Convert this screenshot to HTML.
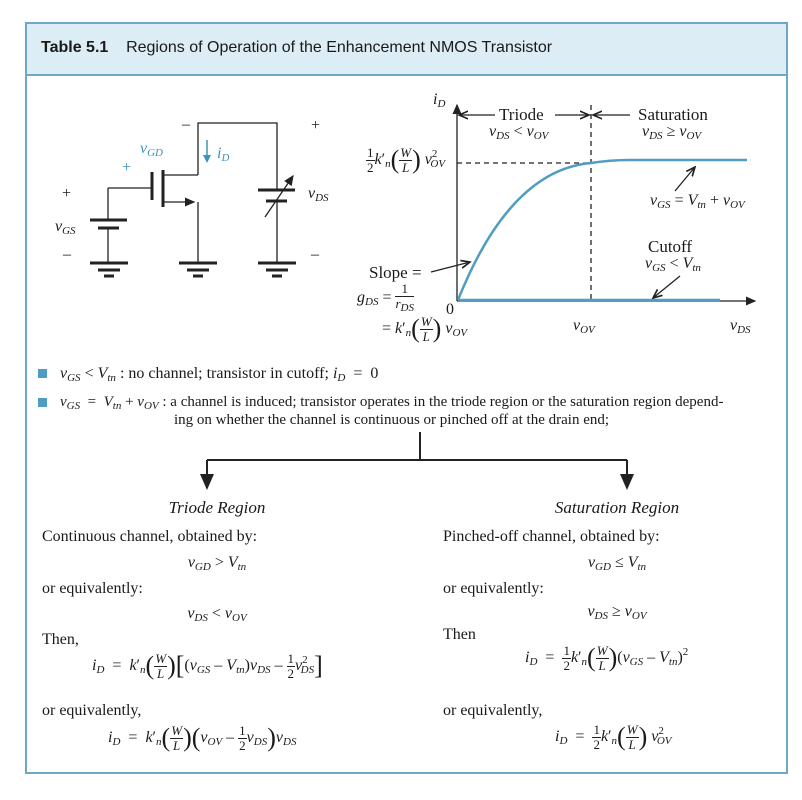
<!DOCTYPE html>
<html><head><meta charset="utf-8"><style>
body{margin:0;background:#fff;width:802px;height:800px;position:relative;overflow:hidden;font-family:"Liberation Serif",serif;font-size:16px;color:#1a1a1a}
.t{position:absolute;white-space:nowrap;line-height:1}
i{font-style:italic}
sub{font-size:11px;vertical-align:-3px;font-style:italic}
sup{font-size:11px;vertical-align:7px}
.b{color:#3d93bf}
.c{transform:translateX(-50%)}
.fr{display:inline-block;vertical-align:middle;text-align:center;font-size:13px;line-height:1.05}
.fr span{display:block}
.fr .n{border-bottom:1px solid #222;padding:0 1px}
.big{font-size:26px;vertical-align:-4px;font-weight:100}
</style></head><body>
<div style="position:absolute;left:25px;top:22px;width:759px;height:748px;border:2px solid #6fa8c4"></div>
<div style="position:absolute;left:27px;top:24px;width:759px;height:50px;background:#dcedf5;border-bottom:2px solid #6fa8c4"></div>
<div class="t" style="left:41px;top:40px;font-family:'Liberation Sans',sans-serif;font-size:16px"><b>Table 5.1</b>&nbsp;&nbsp;&nbsp; Regions of Operation of the Enhancement NMOS Transistor</div>

<svg width="802" height="800" style="position:absolute;left:0;top:0" fill="none" stroke="#222" stroke-width="1.3">
<defs><marker id="a" markerWidth="8" markerHeight="8" refX="7" refY="4" orient="auto"><path d="M0,1 L7,4 L0,7" stroke="#222" fill="none"/></marker>
<marker id="f" markerWidth="8" markerHeight="8" refX="7" refY="4" orient="auto"><path d="M0,0.5 L8,4 L0,7.5z" fill="#222" stroke="none"/></marker></defs>
<path d="M198,175 V123 H277 V190 M277,201 V263 M198,202 V263 M108,188 H152 M108,188 V220 M108,228 V263"/>
<path d="M163,202 H194" marker-end="url(#f)"/>
<path d="M163,175 H198"/>
<g stroke-width="3"><path d="M163,170 V207 M152,172 V200 M90,220 H127 M98,228 H119 M258,190 H295 M266,201 H287"/>
<path d="M90,263 H128 M98,270 H120 M104,276 H114 M179,263 H217 M187,270 H209 M193,276 H203 M258,263 H296 M266,270 H288 M272,276 H282"/></g>
<path d="M265,217 L293,176" marker-end="url(#f)"/>
<path d="M207,140 V161" stroke="#3d93bf" stroke-width="1.5"/><path d="M203,155 L207,163 L211,155z" fill="#3d93bf" stroke="none"/>
<path d="M457,301 V105" marker-end="url(#f)"/>
<path d="M457,301 H755" marker-end="url(#f)"/>
<path d="M591,105 V301 M457,163 H591" stroke-dasharray="5,4"/>
<path d="M458,300 Q510,170 591,163 Q610,160 630,160 H747 M458,300 H720" stroke="#4f9cc4" stroke-width="2.5"/>
<path d="M495,115 H459" marker-end="url(#a)"/><path d="M555,115 H589" marker-end="url(#a)"/><path d="M630,115 H593" marker-end="url(#a)"/>
<path d="M431,272 L470,262" marker-end="url(#a)"/>
<path d="M675,191 L695,167" marker-end="url(#a)"/>
<path d="M680,276 L653,298" marker-end="url(#a)"/>
<path d="M420,432 V460 M207,460 H627" stroke-width="2"/>
<path d="M207,460 V488" stroke-width="2" marker-end="url(#f)"/>
<path d="M627,460 V488" stroke-width="2" marker-end="url(#f)"/>
</svg>

<div class="t" style="left:62px;top:186px">+</div>
<div class="t" style="left:55px;top:219px"><i>v</i><sub>GS</sub></div>
<div class="t" style="left:63px;top:247px">–</div>
<div class="t b" style="left:140px;top:141px"><i>v</i><sub>GD</sub></div>
<div class="t b" style="left:122px;top:160px">+</div>
<div class="t" style="left:182px;top:117px">–</div>
<div class="t b" style="left:217px;top:146px"><i>i</i><sub>D</sub></div>
<div class="t" style="left:311px;top:118px">+</div>
<div class="t" style="left:308px;top:186px"><i>v</i><sub>DS</sub></div>
<div class="t" style="left:311px;top:247px">–</div>
<div class="t" style="left:433px;top:92px"><i>i</i><sub>D</sub></div>
<div class="t" style="left:499px;top:106px;font-size:17px">Triode</div>
<div class="t" style="left:489px;top:124px"><i>v</i><sub>DS</sub> &lt; <i>v</i><sub>OV</sub></div>
<div class="t" style="left:638px;top:106px;font-size:17px">Saturation</div>
<div class="t" style="left:642px;top:124px"><i>v</i><sub>DS</sub> ≥ <i>v</i><sub>OV</sub></div>
<div class="t" style="left:366px;top:146px"><span class="fr"><span class="n">1</span><span>2</span></span><i>k</i>′<sub>n</sub><span class="big">(</span><span class="fr"><span class="n"><i>W</i></span><span><i>L</i></span></span><span class="big">)</span> <i>v</i><sup>2</sup><sub style="margin-left:-7px">OV</sub></div>
<div class="t" style="left:650px;top:193px"><i>v</i><sub>GS</sub> = <i>V</i><sub>tn</sub> + <i>v</i><sub>OV</sub></div>
<div class="t" style="left:648px;top:238px;font-size:17px">Cutoff</div>
<div class="t" style="left:645px;top:256px"><i>v</i><sub>GS</sub> &lt; <i>V</i><sub>tn</sub></div>
<div class="t" style="left:369px;top:264px;font-size:17px">Slope =</div>
<div class="t" style="left:357px;top:282px"><i>g</i><sub>DS</sub> = <span class="fr"><span class="n">1</span><span><i>r<sub>DS</sub></i></span></span></div>
<div class="t" style="left:446px;top:302px">0</div>
<div class="t" style="left:382px;top:315px">= <i>k</i>′<sub>n</sub><span class="big">(</span><span class="fr"><span class="n"><i>W</i></span><span><i>L</i></span></span><span class="big">)</span> <i>v</i><sub>OV</sub></div>
<div class="t" style="left:573px;top:318px"><i>v</i><sub>OV</sub></div>
<div class="t" style="left:730px;top:318px"><i>v</i><sub>DS</sub></div>
<div style="position:absolute;left:38px;top:369px;width:9px;height:9px;background:#4f9cc4"></div>
<div class="t" style="left:60px;top:366px"><i>v</i><sub>GS</sub> &lt; <i>V</i><sub>tn</sub> : no channel; transistor in cutoff; <i>i</i><sub>D</sub> &nbsp;=&nbsp; 0</div>
<div style="position:absolute;left:38px;top:398px;width:9px;height:9px;background:#4f9cc4"></div>
<div class="t" style="left:60px;top:395px;font-size:15px"><i>v</i><sub>GS</sub> &nbsp;=&nbsp; <i>V</i><sub>tn</sub> + <i>v</i><sub>OV</sub> : a channel is induced; transistor operates in the triode region or the saturation region depend-</div>
<div class="t" style="left:174px;top:413px;font-size:15px">ing on whether the channel is continuous or pinched off at the drain end;</div>
<div class="t c" style="left:217px;top:499px;font-size:17px"><i>Triode Region</i></div>
<div class="t" style="left:42px;top:529px">Continuous channel, obtained by:</div>
<div class="t c" style="left:217px;top:555px"><i>v</i><sub>GD</sub> &gt; <i>V</i><sub>tn</sub></div>
<div class="t" style="left:42px;top:581px">or equivalently:</div>
<div class="t c" style="left:217px;top:606px"><i>v</i><sub>DS</sub> &lt; <i>v</i><sub>OV</sub></div>
<div class="t" style="left:42px;top:632px">Then,</div>
<div class="t" style="left:92px;top:652px"><i>i</i><sub>D</sub> &nbsp;=&nbsp; <i>k</i>′<sub>n</sub><span class="big">(</span><span class="fr"><span class="n"><i>W</i></span><span><i>L</i></span></span><span class="big">)[</span>(<i>v</i><sub>GS</sub> – <i>V</i><sub>tn</sub>)<i>v</i><sub>DS</sub> – <span class="fr"><span class="n">1</span><span>2</span></span><i>v</i><sup>2</sup><sub style="margin-left:-7px">DS</sub><span class="big">]</span></div>
<div class="t" style="left:42px;top:703px">or equivalently,</div>
<div class="t" style="left:108px;top:724px"><i>i</i><sub>D</sub> &nbsp;=&nbsp; <i>k</i>′<sub>n</sub><span class="big">(</span><span class="fr"><span class="n"><i>W</i></span><span><i>L</i></span></span><span class="big">)(</span><i>v</i><sub>OV</sub> – <span class="fr"><span class="n">1</span><span>2</span></span><i>v</i><sub>DS</sub><span class="big">)</span><i>v</i><sub>DS</sub></div>
<div class="t c" style="left:617px;top:499px;font-size:17px"><i>Saturation Region</i></div>
<div class="t" style="left:443px;top:529px">Pinched-off channel, obtained by:</div>
<div class="t c" style="left:617px;top:555px"><i>v</i><sub>GD</sub> ≤ <i>V</i><sub>tn</sub></div>
<div class="t" style="left:443px;top:581px">or equivalently:</div>
<div class="t c" style="left:617px;top:604px"><i>v</i><sub>DS</sub> ≥ <i>v</i><sub>OV</sub></div>
<div class="t" style="left:443px;top:627px">Then</div>
<div class="t" style="left:525px;top:644px"><i>i</i><sub>D</sub> &nbsp;=&nbsp; <span class="fr"><span class="n">1</span><span>2</span></span><i>k</i>′<sub>n</sub><span class="big">(</span><span class="fr"><span class="n"><i>W</i></span><span><i>L</i></span></span><span class="big">)</span>(<i>v</i><sub>GS</sub> – <i>V</i><sub>tn</sub>)<sup>2</sup></div>
<div class="t" style="left:443px;top:703px">or equivalently,</div>
<div class="t" style="left:555px;top:723px"><i>i</i><sub>D</sub> &nbsp;=&nbsp; <span class="fr"><span class="n">1</span><span>2</span></span><i>k</i>′<sub>n</sub><span class="big">(</span><span class="fr"><span class="n"><i>W</i></span><span><i>L</i></span></span><span class="big">)</span> <i>v</i><sup>2</sup><sub style="margin-left:-7px">OV</sub></div>
</body></html>
